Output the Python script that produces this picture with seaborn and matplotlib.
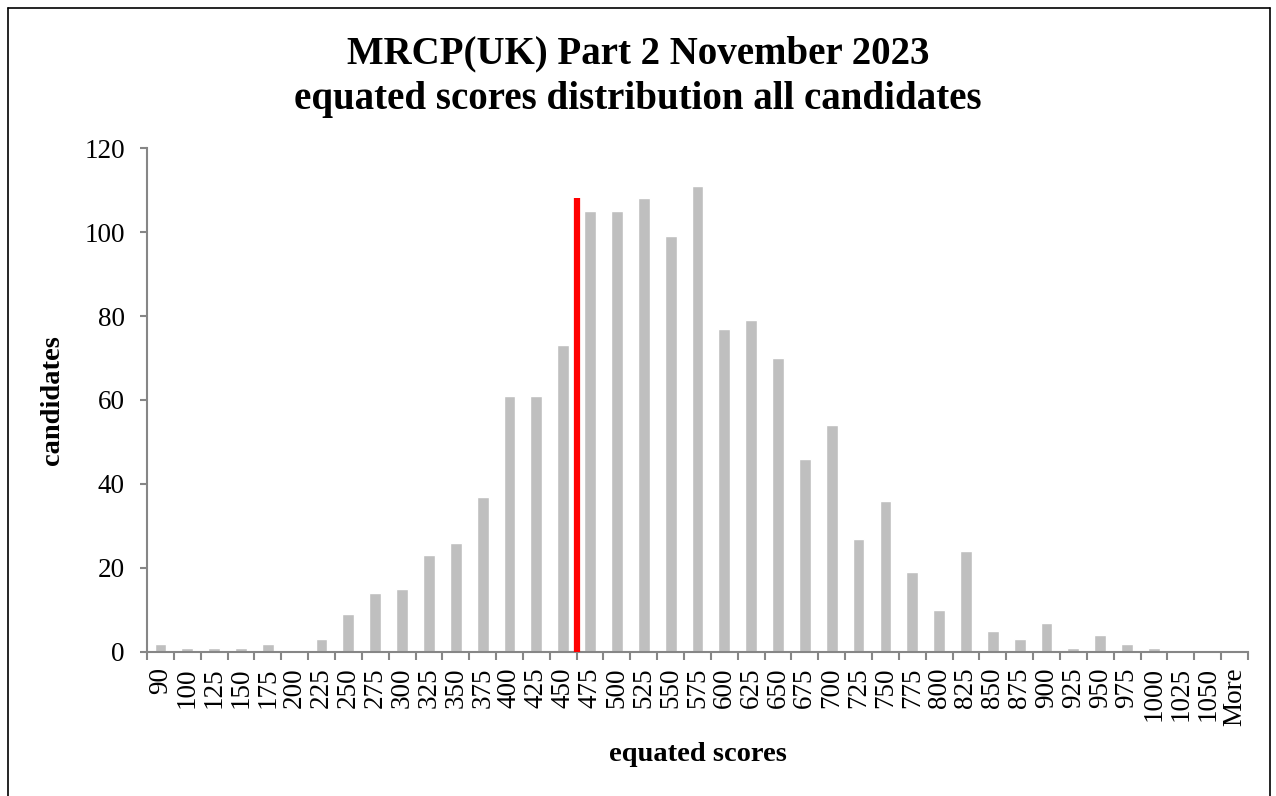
import matplotlib
matplotlib.use("Agg")
from matplotlib import pyplot as plt
from matplotlib.lines import Line2D
import seaborn as sns
import pandas as pd
import numpy as np

categories = ["90", "100", "125", "150", "175", "200", "225", "250", "275", "300",
              "325", "350", "375", "400", "425", "450", "475", "500", "525", "550",
              "575", "600", "625", "650", "675", "700", "725", "750", "775", "800",
              "825", "850", "875", "900", "925", "950", "975", "1000", "1025", "1050",
              "More"]
candidates = [2, 1, 1, 1, 2, 0, 3, 9, 14, 15,
              23, 26, 37, 61, 61, 73, 105, 105, 108, 99,
              111, 77, 79, 70, 46, 54, 27, 36, 19, 10,
              24, 5, 3, 7, 1, 4, 2, 1, 0, 0,
              0]
pass_mark_after = "450"
pass_mark_height = 108

sns.set_theme(style="white")
plt.rcParams["font.family"] = ["Liberation Serif", "DejaVu Serif"]
plt.rcParams["text.color"] = "black"
plt.rcParams["axes.labelcolor"] = "black"
plt.rcParams["xtick.labelcolor"] = "black"
plt.rcParams["ytick.labelcolor"] = "black"

df = pd.DataFrame({"score": categories, "count": candidates})

fig = plt.figure(figsize=(12.76, 7.96), dpi=100)
ax = fig.add_axes([0.1152, 0.181, 0.8628, 0.633])

sns.barplot(data=df, x="score", y="count", color="#BFBFBF", saturation=1,
            width=0.44, ax=ax)

# pass mark line sits on the boundary after the 450 bin
pm_x = categories.index(pass_mark_after) + 0.5
ax.vlines(pm_x, 0, pass_mark_height, color="#FF0000", linewidth=4.5, zorder=5)

ax.set_xlim(-0.5, len(categories) - 0.5)
ax.set_ylim(0, 120)
ax.set_yticks(range(0, 121, 20))

ax.tick_params(axis="x", which="major", length=0, labelsize=19.5, rotation=90, pad=11)
ax.set_xticks(np.arange(len(categories) + 1) - 0.5, minor=True)
ax.tick_params(axis="x", which="minor", length=6, width=1.5, color="#868686",
               bottom=True, direction="out")
ax.tick_params(axis="y", length=5, width=1.5, color="#868686", labelsize=19.5,
               left=True, direction="out", pad=11)

for side in ["top", "right"]:
    ax.spines[side].set_visible(False)
for side in ["left", "bottom"]:
    ax.spines[side].set_color("#868686")
    ax.spines[side].set_linewidth(1.5)

ax.set_xlabel("equated scores", fontsize=20.5, fontweight="bold", labelpad=12)
ax.set_ylabel("candidates", fontsize=20.5, fontweight="bold", labelpad=14)

fig.suptitle("MRCP(UK) Part 2 November 2023\nequated scores distribution all candidates",
             fontsize=28, fontweight="bold", y=0.955, linespacing=1.3)

# outer frame of the chart area
for xs, ys in [([8, 8], [0, 788]), ([8, 1270], [788, 788]), ([1270, 1270], [0, 788])]:
    fig.add_artist(Line2D([x / 1276 for x in xs], [y / 796 for y in ys],
                          color="black", linewidth=1.2, transform=fig.transFigure))

fig.savefig("out.png", dpi=100)
